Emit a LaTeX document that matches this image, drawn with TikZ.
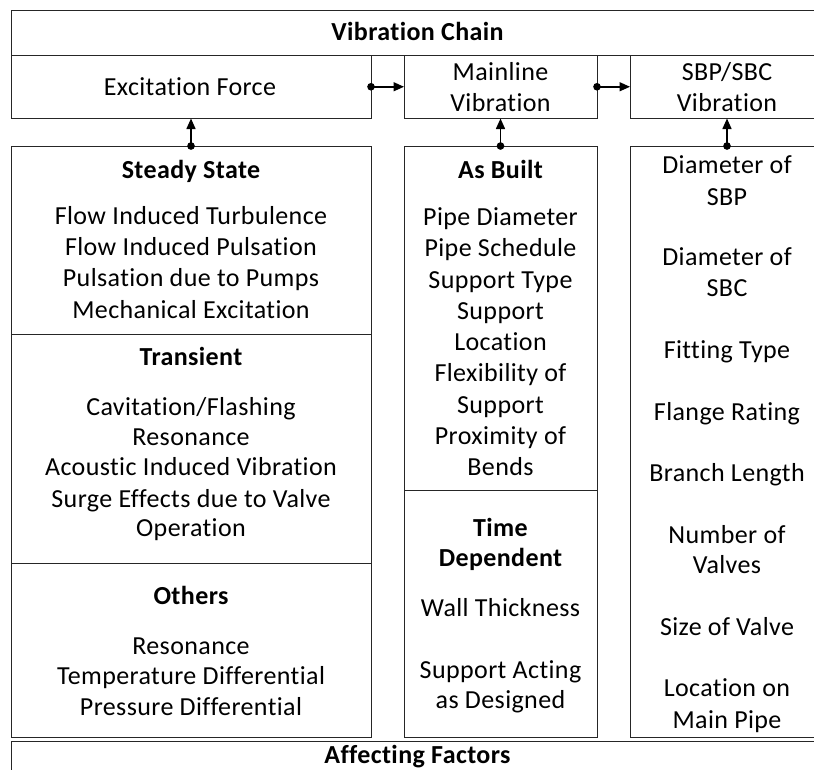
\documentclass[tikz,border=0pt]{standalone}
\usepackage{fontspec}
\setmainfont[LetterSpace=1.5,Ligatures=NoCommon]{Carlito}
\usetikzlibrary{arrows.meta}
\begin{document}
\begin{tikzpicture}[x=1pt,y=-1pt,
  box/.style={draw=black!85, line width=1pt, inner sep=0pt, outer sep=0pt},
  divline/.style={draw=black!85, line width=1pt},
  txt/.style={font=\fontsize{26}{30}\selectfont, anchor=base, inner sep=0pt, outer sep=0pt},
  ttl/.style={txt, font=\fontsize{26}{30}\selectfont\bfseries},
  conn/.style={line width=1.5pt, {Circle[length=7.5pt]}-{Triangle[length=10.5pt,width=9pt]}}]
\useasboundingbox (0,0) rectangle (814,769);
% boxes
\node[box, minimum width=813pt, minimum height=45pt] (chain) at (417.5,32.5) {};
\node[box, minimum width=360pt, minimum height=63.5pt] (exc) at (191,86.75) {};
\node[box, minimum width=193pt, minimum height=63.5pt] (main) at (500.5,86.75) {};
\node[box, minimum width=194pt, minimum height=63.5pt] (sbp) at (727,86.75) {};
\node[box, minimum width=360pt, minimum height=591pt] (left) at (191,441.5) {};
\node[box, minimum width=193pt, minimum height=591pt] (mid) at (500.5,441.5) {};
\node[box, minimum width=194pt, minimum height=591pt] (right) at (727,441.5) {};
\node[box, minimum width=813pt, minimum height=59pt] (aff) at (417.5,770.5) {};
% dividers
\draw[divline] (left.west |- 0,334) -- (left.east |- 0,334);
\draw[divline] (left.west |- 0,563) -- (left.east |- 0,563);
\draw[divline] (mid.west |- 0,490.5) -- (mid.east |- 0,490.5);
% connectors
\draw[conn] ([xshift=-3.75pt]exc.east) -- (main.west);
\draw[conn] ([xshift=-3.75pt]main.east) -- (sbp.west);
\draw[conn] ([yshift=-3.75pt]left.north) -- (exc.south);
\draw[conn] ([yshift=-3.75pt]mid.north) -- (main.south);
\draw[conn] ([yshift=-3.75pt]right.north) -- (sbp.south);
% top texts
\node[ttl] (tchain) at (417.5,40.5) {Vibration Chain};
\node[txt] (texc) at (190,95.5) {Excitation Force};
\node[txt] (tmain1) at (500.5,80.5) {Mainline};
\node[txt] (tmain2) at (500.5,111.5) {Vibration};
\node[txt] (tsbp1) at (727,80.5) {SBP/SBC};
\node[txt] (tsbp2) at (727,111.5) {Vibration};
\node[ttl] (taff) at (417.5,763) {Affecting Factors};
% left column
\foreach \y/\t [count=\i] in {170/Steady State, 357/Transient, 596/Others}
  \node[ttl] (lh\i) at (191,{\y+8.5}) {\t};
\foreach \y/\t [count=\i] in {216/Flow Induced Turbulence, 247/Flow Induced Pulsation, 278/Pulsation due to Pumps, 310/Mechanical Excitation,
  407/{Cavitation/Flashing}, 437/Resonance, 467/Acoustic Induced Vibration, 499/Surge Effects due to Valve, 528/Operation,
  646/Resonance, 676/Temperature Differential, 707/Pressure Differential}
  \node[txt] (l\i) at (191,{\y+8.5}) {\t};
% middle column
\foreach \y/\t [count=\i] in {170/As Built, 528/Time, 558/Dependent}
  \node[ttl] (mh\i) at (500.5,{\y+8.5}) {\t};
\foreach \y/\t [count=\i] in {217/Pipe Diameter, 248.25/Pipe Schedule, 279.5/Support Type, 310.75/Support, 342/Location,
  373.25/Flexibility of, 404.5/Support, 435.75/Proximity of, 467/Bends,
  608/Wall Thickness, 670/Support Acting, 700/as Designed}
  \node[txt] (m\i) at (500.5,{\y+8.5}) {\t};
% right column
\foreach \y/\t [count=\i] in {165/Diameter of, 197/SBP, 257/Diameter of, 288/SBC, 350/Fitting Type, 412/Flange Rating,
  473/Branch Length, 535/Number of, 565/Valves, 627/Size of Valve, 688/Location on, 720/Main Pipe}
  \node[txt] (r\i) at (727,{\y+8.5}) {\t};
\end{tikzpicture}
\end{document}
